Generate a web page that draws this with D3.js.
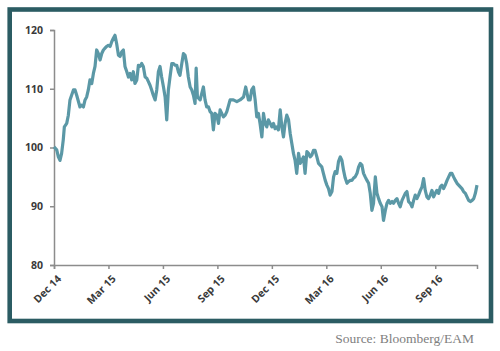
<!DOCTYPE html>
<html>
<head>
<meta charset="utf-8">
<script src="https://cdn.jsdelivr.net/npm/d3@7"></script>
<style>
  body { margin: 0; background: #fff; }
</style>
</head>
<body>
<div id="chart"></div>
<script>
// months since Dec 2014 (x) and index level (y)
const months = [
    0, 0.15, 0.24, 0.33, 0.42, 0.51, 0.57, 0.70, 0.79, 0.88, 0.97, 1.07, 1.16, 1.25, 1.43, 1.52, 1.62, 1.71, 1.80, 1.89,
    1.98, 2.08, 2.17, 2.26, 2.35, 2.44, 2.54, 2.63, 2.72, 2.81, 2.90, 2.99, 3.09, 3.18, 3.27, 3.36, 3.45, 3.55, 3.64, 3.73,
    3.82, 3.91, 4.01, 4.10, 4.19, 4.28, 4.37, 4.46, 4.56, 4.65, 4.74, 4.83, 4.92, 5.02, 5.11, 5.20, 5.29, 5.38, 5.47, 5.57,
    5.66, 5.75, 5.84, 5.93, 6.03, 6.12, 6.21, 6.30, 6.39, 6.49, 6.58, 6.67, 6.76, 6.85, 6.94, 7.04, 7.13, 7.22, 7.31, 7.40,
    7.50, 7.59, 7.68, 7.77, 7.83, 7.90, 8.05, 8.14, 8.23, 8.32, 8.41, 8.51, 8.60, 8.69, 8.78, 8.87, 8.97, 9.06, 9.15, 9.24,
    9.33, 9.43, 9.52, 9.70, 9.88, 10.07, 10.25, 10.44, 10.56, 10.71, 10.80, 10.89, 10.99, 11.08, 11.17, 11.26, 11.35, 11.45, 11.54, 11.63,
    11.72, 11.81, 11.91, 12.00, 12.09, 12.18, 12.27, 12.36, 12.46, 12.55, 12.64, 12.73, 12.82, 12.92, 13.01, 13.10, 13.19, 13.28, 13.37, 13.47,
    13.56, 13.65, 13.74, 13.83, 13.93, 14.02, 14.11, 14.20, 14.29, 14.38, 14.48, 14.57, 14.66, 14.75, 14.84, 14.94, 15.03, 15.12, 15.21, 15.31,
    15.40, 15.49, 15.58, 15.67, 15.77, 15.86, 15.95, 16.04, 16.14, 16.22, 16.32, 16.41, 16.50, 16.59, 16.69, 16.78, 16.87, 16.96, 17.05, 17.14,
    17.24, 17.33, 17.42, 17.51, 17.60, 17.70, 17.79, 17.88, 17.97, 18.07, 18.15, 18.25, 18.34, 18.43, 18.52, 18.62, 18.70, 18.80, 18.89, 18.98,
    19.07, 19.17, 19.26, 19.35, 19.44, 19.53, 19.63, 19.72, 19.81, 19.90, 19.99, 20.08, 20.18, 20.27, 20.36, 20.45, 20.54, 20.63, 20.73, 20.82,
    20.91, 21.00, 21.09, 21.19, 21.28, 21.37, 21.46, 21.55, 21.65, 21.74, 21.83, 21.92, 22.01, 22.11, 22.20, 22.29, 22.38, 22.47, 22.56, 22.66,
    22.75, 22.84, 22.93, 23.03, 23.12, 23.21, 23.30
];

const levels = [
    100.1, 99.6, 98.4, 97.8, 99.0, 101.3, 103.5, 104.1, 105.5, 108.1, 108.9, 109.8, 109.8, 108.9, 106.9, 107.2, 106.9, 108.1, 108.6, 109.8,
    111.5, 110.9, 112.6, 113.8, 116.6, 116.0, 114.9, 116.0, 116.6, 116.9, 117.2, 117.4, 117.2, 118.0, 118.6, 119.1, 117.7, 115.7, 115.5, 116.3,
    116.6, 113.8, 112.9, 112.0, 112.6, 111.5, 112.9, 110.9, 111.5, 114.0, 113.8, 114.3, 113.8, 112.0, 111.8, 111.2, 110.6, 109.8, 108.9, 108.1,
    109.8, 112.9, 113.8, 112.0, 110.3, 108.6, 104.7, 109.8, 112.0, 114.3, 114.3, 114.0, 114.0, 112.9, 112.3, 114.3, 116.0, 115.7, 114.3, 112.0,
    110.3, 109.8, 108.9, 107.5, 113.5, 108.6, 108.1, 109.2, 110.3, 108.1, 106.9, 106.9, 106.1, 105.8, 103.0, 105.8, 105.5, 104.1, 106.4, 105.8,
    105.2, 105.5, 106.1, 108.1, 108.1, 107.8, 108.1, 108.6, 110.3, 108.1, 108.1, 109.8, 110.3, 108.1, 105.2, 105.8, 104.1, 101.8, 105.8, 104.1,
    103.5, 104.7, 104.1, 103.5, 104.1, 103.2, 103.5, 103.0, 106.4, 103.5, 101.8, 104.1, 105.5, 104.7, 102.4, 100.7, 99.0, 97.8, 95.6, 99.0,
    97.3, 97.8, 98.4, 95.6, 99.3, 99.0, 98.4, 98.7, 99.5, 99.5, 98.4, 97.3, 97.0, 96.7, 95.6, 94.4, 93.6, 93.0, 91.9, 92.5,
    95.0, 95.9, 95.6, 97.6, 98.4, 97.8, 96.1, 94.8, 93.9, 94.2, 94.4, 94.4, 94.8, 95.0, 95.6, 96.7, 97.3, 97.0, 95.6, 95.0,
    94.4, 93.9, 92.2, 89.3, 90.5, 95.0, 92.2, 91.3, 90.5, 89.9, 87.6, 89.3, 90.5, 91.0, 90.5, 90.8, 90.5, 91.0, 91.3, 90.5,
    89.9, 91.0, 91.6, 92.2, 92.5, 90.8, 90.5, 89.9, 91.0, 91.9, 91.3, 91.9, 92.7, 93.3, 94.7, 92.7, 91.6, 91.3, 91.9, 92.7,
    91.6, 92.2, 92.7, 92.2, 93.3, 93.6, 93.0, 93.6, 94.4, 95.0, 95.6, 95.6, 95.0, 94.4, 93.9, 93.6, 93.3, 93.0, 92.5, 92.2,
    91.6, 91.0, 90.8, 91.0, 91.3, 92.2, 93.6
];

const tickMonths = [0, 3, 6, 9, 12, 15, 18, 21];
const tickLabels = ['Dec 14', 'Mar 15', 'Jun 15', 'Sep 15', 'Dec 15', 'Mar 16', 'Jun 16', 'Sep 16'];
const yTicks = [80, 90, 100, 110, 120];

const width = 500;
const height = 351;
const margin = { top: 30, right: 23, bottom: 86, left: 54 };

const svg = d3.select('#chart')
    .append('svg')
    .attr('width', width)
    .attr('height', height);

// frame
svg.append('rect')
    .attr('x', 9.7)
    .attr('y', 9.5)
    .attr('width', 481.3)
    .attr('height', 311.5)
    .attr('fill', 'none')
    .attr('stroke', '#2b5c63')
    .attr('stroke-width', 4.6);

const xScale = d3.scaleLinear()
    .domain([0, 23.3])
    .range([margin.left, width - margin.right]);

const yScale = d3.scaleLinear()
    .domain([80, 120])
    .range([height - margin.bottom, margin.top]);

// y axis
const yAxis = d3.axisLeft(yScale)
    .tickValues(yTicks)
    .tickSize(4)
    .tickPadding(7);

const gy = svg.append('g')
    .attr('transform', `translate(${margin.left}, 0)`)
    .call(yAxis);

// x axis
const xAxis = d3.axisBottom(xScale)
    .tickValues(tickMonths)
    .tickFormat((d, i) => tickLabels[i])
    .tickSize(4);

const gx = svg.append('g')
    .attr('transform', `translate(0, ${height - margin.bottom})`)
    .call(xAxis);

// rotated labels, ending just below the tick
gx.selectAll('text')
    .attr('text-anchor', 'end')
    .attr('x', 0)
    .attr('y', 0)
    .attr('dy', '0.35em')
    .attr('transform', 'translate(5, 12) rotate(-45)');

[gx, gy].forEach(g => {
    g.select('.domain').attr('stroke', '#8c8c8c').attr('stroke-width', 1.5);
    g.selectAll('.tick line').attr('stroke', '#8c8c8c').attr('stroke-width', 1.5);
    g.selectAll('text')
        .attr('fill', '#3a3a3a')
        .style('font-family', '"Open Sans", "Liberation Sans", sans-serif')
        .style('font-weight', 'bold')
        .style('font-size', '10.5px');
});

// the series
const line = d3.line()
    .x((d, i) => xScale(months[i]))
    .y(d => yScale(d));

svg.append('path')
    .datum(levels)
    .attr('fill', 'none')
    .attr('stroke', '#5b98a6')
    .attr('stroke-width', 3.2)
    .attr('stroke-linejoin', 'round')
    .attr('d', line);

// source note
svg.append('text')
    .attr('x', 474)
    .attr('y', 343)
    .attr('text-anchor', 'end')
    .attr('fill', '#808080')
    .style('font-family', '"Liberation Serif", "DejaVu Serif", serif')
    .style('font-size', '13.5px')
    .text('Source: Bloomberg/EAM');
</script>
</body>
</html>
